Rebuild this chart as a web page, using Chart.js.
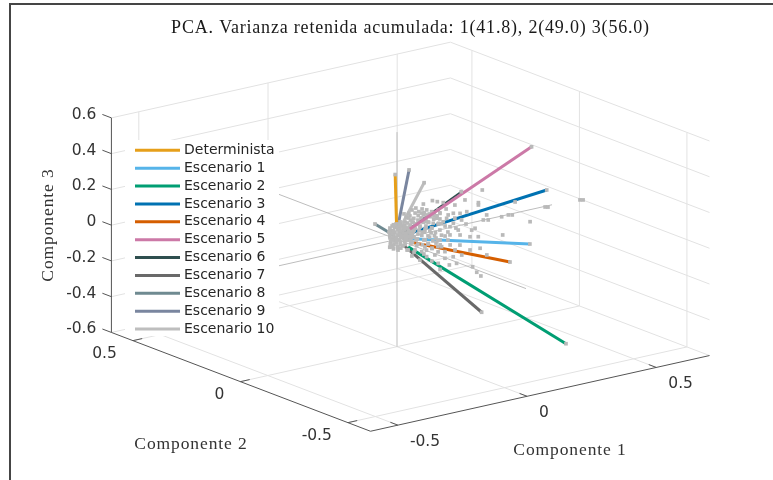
<!DOCTYPE html>
<html>
<head>
<meta charset="utf-8">
<title>PCA</title>
<script src="https://cdn.jsdelivr.net/npm/chart.js@4/dist/chart.umd.min.js"></script>
<style>
  html, body { margin: 0; padding: 0; background: #fff; }
  #wrap { position: relative; width: 773px; height: 480px; overflow: hidden; }
  #frame { position: absolute; left: 9px; top: 3px; width: 780px; height: 500px; border-left: 2px solid #454545; border-top: 2px solid #454545; }
  canvas { position: absolute; left: 0; top: 0; }
</style>
</head>
<body>
<div id="wrap">
  <div id="frame"></div>
  <canvas id="chart" width="773" height="480"></canvas>
</div>
<script>
const titleText = 'PCA. Varianza retenida acumulada: 1(41.8), 2(49.0) 3(56.0)'
const labelC1 = 'Componente 1'
const labelC2 = 'Componente 2'
const labelC3 = 'Componente 3'

const ticksC1 = [-0.5, 0, 0.5]
const ticksC2 = [-0.5, 0, 0.5]
const ticksC3 = [-0.6, -0.4, -0.2, 0, 0.2, 0.4, 0.6]
const limitsC1 = [-0.606, 0.706]
const limitsC2 = [-0.605, 0.6]
const limitsC3 = [-0.6, 0.6]

const scenarios = ['Determinista', 'Escenario 1', 'Escenario 2', 'Escenario 3', 'Escenario 4', 'Escenario 5',
  'Escenario 6', 'Escenario 7', 'Escenario 8', 'Escenario 9', 'Escenario 10']
const colors = ['#e69f1a', '#56b4e9', '#009e73', '#0072b2', '#d55e00', '#cc79a7',
  '#2f4f4f', '#696969', '#6f8a91', '#7a869f', '#bebebe']

// loading vectors: start and end of each scenario in component space
const startC1 = [-0.002, 0.014, 0.018, 0.031, 0.034, 0.05, 0.019, 0.007, -0.008, 0.002, 0.012]
const startC2 = [0, -0.02, -0.03, 0, -0.02, 0, 0, -0.02, 0, 0, 0]
const startC3 = [0.092, 0.01, -0.034, 0.015, -0.016, 0.042, 0.024, -0.024, 0.022, 0.063, 0.06]
const endC1 = [-0.007, 0.431, 0.238, 0.621, 0.354, 0.604, 0.29, 0.078, -0.002, 0.03, 0.08]
const endC2 = [0, -0.1, -0.5, 0.05, -0.1, 0.1, 0.05, -0.3, 0.1, -0.02, -0.03]
const endC3 = [0.365, -0.119, -0.431, 0.053, -0.195, 0.277, 0.15, -0.295, 0.041, 0.388, 0.305]

// scores cloud
const cloudC1 = [
  0.355, 0.34, 0.34, 0.288, 0.162, 0.181, 0.204, 0.249, 0.127, 0.295, 0.359, 0.378, 0.372, 0.269, 0.243,
  0.223, 0.191, 0.159, 0.14, 0.275, 0.243, 0.314, 0.327, 0.262, 0.23, 0.204, 0.179, 0.153, 0.217, 0.127,
  0.23, 0.191, 0.269, 0.165, 0.133, 0.056, 0.075, 0.095, 0.106, 0.083, 0.114, 0.133, 0.16, 0.211, 0.482,
  0.43, 0.456, 0.471, 0.54, 0.434, 0.095, 0.083, 0.145, 0.184, 0.222, 0.106, 0.145, 0.176, 0.129,
  0.068, 0.083, 0.098, 0.122, 0.068, 0.098, 0.118, 0.137, 0.168, 0.191, 0.211, 0.249, 0.253, 0.292, 0.157,
  0.184, 0.215, 0.141, 0.122, 0.052, 0.048, 0.079, 0.106, 0.133, 0.176, 0.222, 0.091, 0.129, 0.184, 0.068,
  0.625, 0.637, 0.501, 0.49,
  0.267, 0.283, 0.251, 0.28, 0.189, 0.161, 0.125, 0.118, 0.093, 0.144, 0.176, 0.209, 0.241, 0.105, 0.073,
  0.054, 0.144, 0.183, 0.093, 0.131, 0.164, 0.202, 0.125, 0.08, 0.241, 0.273, 0.306, 0.028, 0.016, 0.047,
  -0.012, 0.001, 0.013,
  -0.025, -0.011, 0.002, 0.012, 0.026,
  0.048, -0.024, -0.013, 0.001, 0.011, 0.025, 0.035,
  0.057, -0.03, -0.019, -0.006, 0.007, 0.017, 0.031, 0.044,
  0.062, 0.05, -0.025, -0.012, 0.001, 0.013, 0.024, 0.037, 0.049,
  0.062, 0.05, -0.023, -0.011, 0, 0.012, 0.025, 0.035, 0.05,
  0.057, 0.05, -0.024, -0.012, 0.002, 0.011, 0.023, 0.034, 0.045,
  0.05, -0.026, -0.013, 0, 0.013, 0.027, 0.04,
  -0.028, -0.014, 0.001, 0.015, 0.029,
  -0.012, 0.002, 0.013,
  0.06, 0.062, 0.058, 0.061, 0.059,
  0.075, 0.077, 0.073, 0.076, 0.074, 0.075,
  0.09, 0.092, 0.088, 0.091, 0.089,
  0.105, 0.107, 0.103, 0.106, 0.104, 0.105,
  0.12, 0.122, 0.118, 0.121, 0.119,
  0.135, 0.137, 0.133, 0.136, 0.134, 0.135,
  0.15, 0.152, 0.148, 0.151, 0.149,
  0.165, 0.167, 0.163, 0.166, 0.164, 0.165,
  0.18, 0.182, 0.178, 0.181, 0.179,
  0.195, 0.197, 0.193, 0.196,
  0.027, 0.043, 0.058, 0.035, 0.054, 0.023, 0.039, 0.004, -0.019,
  -0.019, 0.012, -0.004, 0.066, 0.074, 0.019, -0.027, -0.031, -0.015
]
const cloudC2 = [
  0.03, 0.03, 0.03, 0.03, 0.03, 0.03, 0.03, 0.03, 0.03, 0.03, 0.03, 0.03, 0.03, 0.03, 0.03,
  0.03, 0.03, 0.03, 0.03, 0.03, 0.03, 0.03, 0.03, 0.03, 0.03, 0.03, 0.03, 0.03, 0.03, 0.03,
  0.03, 0.03, 0.03, 0.03, 0.03, 0.03, 0.03, 0.03, 0.03, 0.03, 0.03, 0.03, 0.03, 0.03, 0.03,
  0.03, 0.03, 0.03, 0.03, 0.03, 0.03, 0.03, 0.03, 0.03, 0.03, 0.03, 0.03, 0.03, 0.03,
  0.03, 0.03, 0.03, 0.03, 0.03, 0.03, 0.03, 0.03, 0.03, 0.03, 0.03, 0.03, 0.03, 0.03, 0.03,
  0.03, 0.03, 0.03, 0.03, 0.03, 0.03, 0.03, 0.03, 0.03, 0.03, 0.03, 0.03, 0.03, 0.03, 0.03,
  -0.1, -0.1, -0.1, -0.1,
  -0.05, -0.05, -0.05, -0.05, -0.05, -0.05, -0.05, -0.05, -0.05, -0.05, -0.05, -0.05, -0.05, -0.05, -0.05,
  -0.05, -0.05, -0.05, -0.05, -0.05, -0.05, -0.05, -0.05, -0.05, -0.05, -0.05, -0.05, -0.05, -0.05, -0.05,
  0.002, -0.003, 0.001,
  0.003, -0.002, 0, 0.002, -0.003,
  -0.002, 0.003, 0, -0.003, 0.002, 0, 0.001,
  0.002, -0.003, 0.001, 0.003, -0.002, 0, 0.002, -0.001,
  -0.002, 0.001, 0.003, 0, -0.003, 0.002, 0, -0.001, 0.002,
  0.003, -0.002, 0, 0.001, 0.002, -0.003, 0, 0.002, -0.002,
  -0.001, 0.002, 0, -0.002, 0.003, 0, -0.003, 0.001, 0.002,
  0.002, 0, -0.002, 0.003, 0.001, -0.003, 0,
  0, 0.002, -0.002, 0.001, -0.003,
  0.002, 0, -0.002,
  0.03, 0.025, 0.035, 0.03, 0.025,
  0.035, 0.03, 0.025, 0.035, 0.03, 0.025,
  0.03, 0.035, 0.025, 0.03, 0.035,
  0.025, 0.03, 0.035, 0.025, 0.03, 0.035,
  0.03, 0.025, 0.035, 0.03, 0.025,
  0.035, 0.03, 0.025, 0.035, 0.03, 0.025,
  0.03, 0.035, 0.025, 0.03, 0.035,
  0.025, 0.03, 0.035, 0.025, 0.03, 0.035,
  0.03, 0.025, 0.035, 0.03, 0.025,
  0.035, 0.03, 0.025, 0.035,
  0, 0, 0, 0, 0, 0, 0, 0, 0,
  0, 0, 0, 0, 0, 0, 0, 0, 0
]
const cloudC3 = [
  0.148, 0.082, 0.069, 0.114, 0.151, 0.139, 0.126, 0.098, 0.143, 0.046, -0.021, -0.027, 0.003, 0.045, 0.054,
  0.051, 0.07, 0.09, 0.106, 0.006, -0.002, -0.063, -0.057, -0.046, -0.017, 0.019, 0.047, 0.064, 0.034, 0.082,
  -0.063, -0.023, -0.076, 0.023, 0.042, 0.065, 0.093, 0.103, 0.06, 0.124, 0.024, -0.004, -0.002, -0.063, 0.04,
  -0.026, -0.024, -0.029, -0.089, -0.129, 0.019, 0.057, 0.037, 0.013, -0.044, -0.018, -0.041, -0.063, -0.059,
  0.028, 0.001, 0.041, -0.012, 0.084, 0.13, 0.068, 0.017, 0.063, 0.039, -0.007, 0.025, -0.032, -0.022, -0.028,
  0.091, 0.087, 0.077, 0.117, 0.112, 0.034, -0.043, -0.074, -0.099, -0.091, -0.089, -0.114, -0.137, -0.143, -0.095,
  0.065, 0.061, 0.065, 0.069,
  -0.247, -0.273, -0.211, -0.117, -0.172, -0.172, -0.185, -0.149, -0.128, -0.129, -0.131, -0.132, -0.114, -0.098, -0.097,
  -0.063, -0.092, -0.095, -0.057, -0.06, -0.061, -0.074, -0.021, -0.025, -0.04, -0.05, -0.163, -0.045, -0.075, -0.108,
  0.085, 0.087, 0.083,
  0.07, 0.072, 0.068, 0.071, 0.069,
  0.055, 0.057, 0.053, 0.056, 0.054, 0.055, 0.057,
  0.04, 0.042, 0.038, 0.041, 0.039, 0.04, 0.042, 0.038,
  0.025, 0.027, 0.023, 0.026, 0.024, 0.025, 0.027, 0.023, 0.026,
  0.01, 0.012, 0.008, 0.011, 0.009, 0.01, 0.012, 0.008, 0.011,
  -0.005, -0.003, -0.007, -0.004, -0.006, -0.005, -0.003, -0.007, -0.004,
  -0.02, -0.018, -0.022, -0.019, -0.021, -0.02, -0.018,
  -0.035, -0.033, -0.037, -0.034, -0.036,
  -0.05, -0.048, -0.052,
  0.09, 0.06, 0.02, -0.01, -0.03,
  0.105, 0.07, 0.045, 0.01, -0.02, -0.05,
  0.075, 0.05, 0.015, -0.03, -0.06,
  0.11, 0.085, 0.035, 0.005, -0.045, -0.085,
  0.095, 0.045, 0.015, -0.03, -0.08,
  0.09, 0.055, 0.01, -0.02, -0.06, -0.115,
  0.08, 0.03, -0.01, -0.05, -0.09,
  0.085, 0.045, -0.005, -0.045, -0.075, -0.12,
  0.06, 0.02, -0.035, -0.08, -0.11,
  0.07, 0.01, -0.05, -0.11,
  0.066, 0.028, 0, -0.015, -0.043, -0.044, -0.072, -0.061, -0.036,
  0.081, 0.094, 0.087, 0.031, -0.027, 0.013, 0.017, 0.051, 0.002
]

// axonometric view of the 3D box, as the figure was exported
const view = {
  ox: 397, oy: 239.4,
  c1x: 258.4, c1y: -57.7,
  c2x: -215, c2y: -82,
  c3y: -178.8
}

function project(c1, c2, c3) {
  return {
    x: view.ox + view.c1x * c1 + view.c2x * c2,
    y: view.oy + view.c1y * c1 + view.c2y * c2 + view.c3y * c3
  }
}

const [x0, x1] = limitsC1
const [y0, y1] = limitsC2
const [z0, z1] = limitsC3

function line(a, b, color, width, order) {
  return {
    data: [project(...a), project(...b)],
    showLine: true,
    borderColor: color,
    borderWidth: width,
    pointRadius: 0,
    order
  }
}

function points(data, order) {
  return {
    data,
    showLine: false,
    pointStyle: 'rect',
    pointRadius: 2.6,
    pointBorderWidth: 0,
    pointBackgroundColor: '#b9b9b9',
    order
  }
}

const datasets = []

// walls and floor grid
const gridColor = '#e2e2e2'
for (const z of ticksC3) {
  datasets.push(line([x0, y1, z], [x1, y1, z], gridColor, 1, 50))
  datasets.push(line([x1, y1, z], [x1, y0, z], gridColor, 1, 50))
}
for (const x of ticksC1) {
  datasets.push(line([x, y1, z0], [x, y1, z1], gridColor, 1, 50))
  datasets.push(line([x, y0, z0], [x, y1, z0], gridColor, 1, 50))
}
for (const y of ticksC2) {
  datasets.push(line([x1, y, z0], [x1, y, z1], gridColor, 1, 50))
  datasets.push(line([x0, y, z0], [x1, y, z0], gridColor, 1, 50))
}

// axis rulers and tick marks
const rulerColor = '#555555'
datasets.push(line([x0, y1, z0], [x0, y1, z1], rulerColor, 1, 40))
datasets.push(line([x0, y1, z0], [x0, y0, z0], rulerColor, 1, 40))
datasets.push(line([x0, y0, z0], [x1, y0, z0], rulerColor, 1, 40))
for (const z of ticksC3) datasets.push(line([x0, y1, z], [x0, y1 + 0.042, z], rulerColor, 1, 40))
for (const y of ticksC2) datasets.push(line([x0, y, z0], [x0 + 0.036, y, z0], rulerColor, 1, 40))
for (const x of ticksC1) datasets.push(line([x, y0, z0], [x, y0 + 0.035, z0], rulerColor, 1, 40))

// thin lines through the origin
const centerColor = '#bdbdbd'
datasets.push(line([-0.6, 0, 0], [0.6, 0, 0], centerColor, 1, 30))
datasets.push(line([0, -0.6, 0], [0, 0.6, 0], centerColor, 1, 30))
datasets.push(line([0, 0, z0], [0, 0, z1], centerColor, 1, 30))

// scenarios; Escenario 5 sits in front of the cloud, the others behind it
scenarios.forEach((name, i) => {
  const order = name === 'Escenario 5' ? 0 : 20
  const ds = line([startC1[i], startC2[i], startC3[i]], [endC1[i], endC2[i], endC3[i]], colors[i], name === 'Escenario 6' ? 2 : 3, order)
  ds.label = name
  datasets.push(ds)
})

// scores, and the small grey tips at the end of each vector
datasets.push(points(cloudC1.map((c1, i) => project(c1, cloudC2[i], cloudC3[i])), 1))
datasets.push(points(scenarios.map((_, i) => project(endC1[i], endC2[i], endC3[i])), -1))

const serif = '"Liberation Serif", serif'
const sans = '"DejaVu Sans", sans-serif'

const labelsPlugin = {
  id: 'labels',
  afterDatasetsDraw(chart) {
    const { ctx, scales } = chart
    const px = p => ({ x: scales.x.getPixelForValue(p.x), y: scales.y.getPixelForValue(p.y) })

    ctx.save()

    // legend
    ctx.fillStyle = '#fff'
    ctx.fillRect(125, 140, 154, 196)
    ctx.textBaseline = 'middle'
    ctx.font = '14px ' + sans
    scenarios.forEach((name, i) => {
      const y = 150.3 + i * 17.87
      ctx.strokeStyle = colors[i]
      ctx.lineWidth = 3
      ctx.beginPath()
      ctx.moveTo(135, y)
      ctx.lineTo(180, y)
      ctx.stroke()
      ctx.fillStyle = '#262626'
      ctx.textAlign = 'left'
      ctx.fillText(name, 184, y)
    })

    // tick labels
    ctx.font = '15.5px ' + sans
    ctx.fillStyle = '#333'
    ctx.textAlign = 'right'
    for (const z of ticksC3) {
      const p = px(project(x0, y1, z))
      ctx.fillText(String(z), p.x - 15, p.y - 3)
    }
    for (const y of ticksC2) {
      const p = px(project(x0, y, z0))
      ctx.fillText(String(y), p.x - 16, p.y + 13.5)
    }
    ctx.textAlign = 'left'
    for (const x of ticksC1) {
      const p = px(project(x, y0, z0))
      ctx.fillText(String(x), p.x + 12, p.y + 17)
    }

    // title and axis names
    ctx.fillStyle = '#1a1a1a'
    ctx.textAlign = 'center'
    ctx.letterSpacing = '0.8px'
    ctx.font = '18px ' + serif
    ctx.fillText(titleText, 410.5, 28)
    ctx.fillStyle = '#333'
    ctx.font = '17.5px ' + serif
    ctx.letterSpacing = '0.9px'
    ctx.fillText(labelC1, 570, 450)
    ctx.fillText(labelC2, 191, 444)
    ctx.translate(48, 225)
    ctx.rotate(-Math.PI / 2)
    ctx.fillText(labelC3, 0, 0)

    ctx.restore()
  }
}

new Chart('chart', {
  type: 'scatter',
  data: { datasets },
  options: {
    responsive: false,
    animation: false,
    layout: { padding: 0, autoPadding: false },
    scales: {
      x: { type: 'linear', display: false, min: 0, max: 773 },
      y: { type: 'linear', display: false, min: 0, max: 480, reverse: true }
    },
    plugins: {
      legend: { display: false },
      tooltip: { enabled: false }
    }
  },
  plugins: [labelsPlugin]
})
</script>
</body>
</html>
